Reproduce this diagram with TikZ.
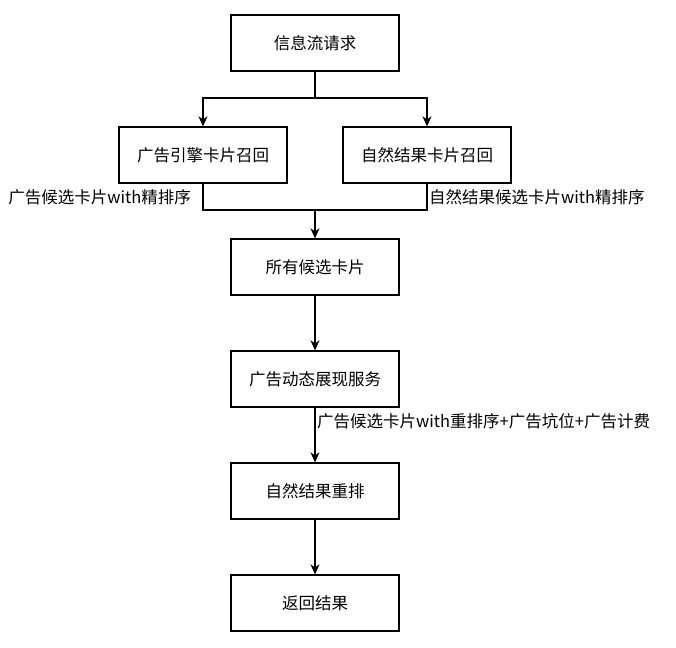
\documentclass[tikz,border=0pt]{standalone}
\usepackage{fontspec}
\setmainfont{Noto Sans CJK SC}
\usetikzlibrary{arrows.meta}
\tikzset{
  box/.style={draw=black, line width=1.3pt, minimum width=168pt, minimum height=56pt, inner sep=0pt, font=\fontsize{16.5}{20}\selectfont},
  conn/.style={line width=1.3pt, draw=black},
  arr/.style={conn, -{Stealth[length=10pt,width=9pt,inset=3pt]}},
  elabel/.style={inner sep=1pt, font=\fontsize{16.5}{20}\selectfont}
}
\begin{document}
\begin{tikzpicture}[x=1pt,y=-1pt]
\useasboundingbox (0,0) rectangle (676,647);
\node[box] (n1) at (315,43) {信息流请求};
\node[box] (n2) at (203,155) {广告引擎卡片召回};
\node[box] (n3) at (427,155) {自然结果卡片召回};
\node[box] (n4) at (315,267) {所有候选卡片};
\node[box] (n5) at (315,379) {广告动态展现服务};
\node[box] (n6) at (315,491) {自然结果重排};
\node[box] (n7) at (315,603) {返回结果};
\coordinate (j1) at (315,98);
\coordinate (j2) at (315,210);
\draw[arr] (n1.south) -- (j1) -| (n2.north);
\draw[arr] (j1) -| (n3.north);
\draw[conn] (n2.south) |- (j2);
\draw[conn] (n3.south) |- (j2);
\draw[arr] (j2) -- (n4.north);
\draw[arr] (n4.south) -- (n5.north);
\draw[arr] (n5.south) -- (n6.north);
\draw[arr] (n6.south) -- (n7.north);
\node[elabel, anchor=east] (l1) at (192,197) {广告候选卡片with精排序};
\node[elabel, anchor=west] (l2) at (428,197) {自然结果候选卡片with精排序};
\node[elabel, anchor=west] (l3) at (316,421) {广告候选卡片with重排序+广告坑位+广告计费};
\end{tikzpicture}
\end{document}
